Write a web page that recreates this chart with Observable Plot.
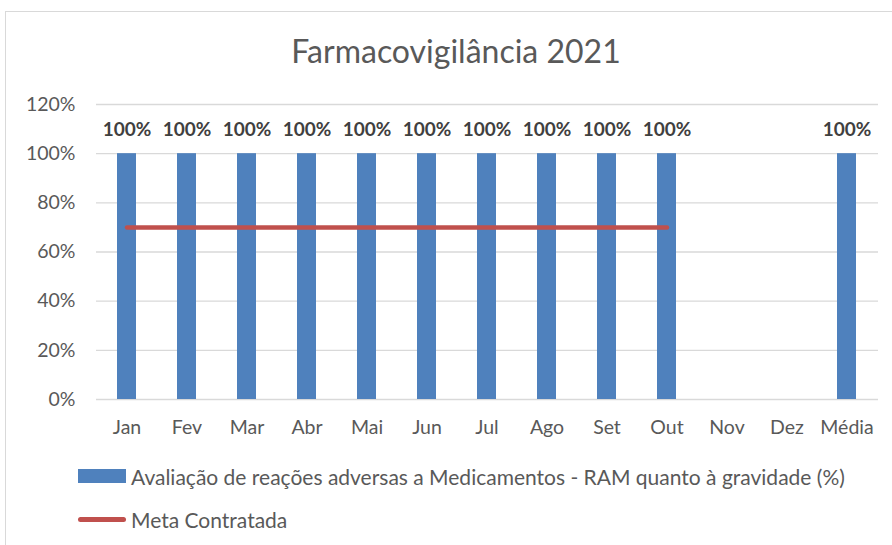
<!DOCTYPE html>
<html><head><meta charset="utf-8">
<script src="https://cdn.jsdelivr.net/npm/d3@7"></script>
<script src="https://cdn.jsdelivr.net/npm/@observablehq/plot@0.6"></script>
<style>
body{margin:0;background:#fff;font-family:Lato,"Noto Sans",sans-serif;width:892px;height:545px;overflow:hidden;position:relative;}
#frame{position:absolute;left:5px;top:11px;width:902px;height:560px;border:1px solid #d9d9d9;box-sizing:border-box;}
#title{position:absolute;left:5px;width:902px;top:30px;text-align:center;font-size:32px;line-height:42px;color:#595959;}
#chart{position:absolute;left:0;top:84px;}
.leg{position:absolute;left:78px;font-size:21px;color:#595959;display:flex;align-items:center;height:26px;}
.sw{width:48px;height:14px;background:#4F81BD;margin-right:5px;}
.ln{width:48px;height:5px;border-radius:3px;background:#C0504D;margin-right:5px;}
</style></head>
<body>
<div id="frame"></div>
<div id="title">Farmacovigilância 2021</div>
<div id="chart"></div>
<div class="leg" style="top:463px"><div class="sw"></div><span>Avaliação de reações adversas a Medicamentos - RAM quanto à gravidade (%)</span></div>
<div class="leg" style="top:506px"><div class="ln"></div><span>Meta Contratada</span></div>
<script>
const categories = ["Jan","Fev","Mar","Abr","Mai","Jun","Jul","Ago","Set","Out","Nov","Dez","Média"];
const ramValues = [1,1,1,1,1,1,1,1,1,1,null,null,1];
const metaValues = [0.7,0.7,0.7,0.7,0.7,0.7,0.7,0.7,0.7,0.7,null,null,null];
const yTicks = [0,0.2,0.4,0.6,0.8,1.0,1.2];

const data = categories.map((c,i)=>({cat:c, ram:ramValues[i], meta:metaValues[i]}));
const pct = d => Math.round(d*100) + "%";

const chart = Plot.plot({
  width: 892,
  height: 365,
  marginLeft: 96,
  marginRight: 14,
  marginTop: 20,
  marginBottom: 50,
  style: {fontFamily: 'Lato, "Noto Sans", sans-serif', fontSize: "19.5px", color: "#595959", background: "transparent"},
  x: {domain: categories, paddingInner: 0.68, paddingOuter: 0.34, tickSize: 0, tickPadding: 21, label: null},
  y: {domain: [0, 1.2], ticks: yTicks, tickFormat: pct, tickSize: 0, tickPadding: 21, label: null},
  marks: [
    Plot.ruleY(yTicks, {stroke: "#d9d9d9", strokeWidth: 1.3}),
    Plot.barY(data.filter(d => d.ram != null), {x: "cat", y: "ram", fill: "#4F81BD"}),
    Plot.line(data, {x: "cat", y: "meta", stroke: "#C0504D", strokeWidth: 4.5, strokeLinecap: "round"}),
    Plot.text(data.filter(d => d.ram != null), {x: "cat", y: "ram", text: d => pct(d.ram), dy: -24, fontWeight: "bold", fill: "#404040", fontSize: 19})
  ]
});
document.getElementById("chart").appendChild(chart);
</script>
</body></html>
